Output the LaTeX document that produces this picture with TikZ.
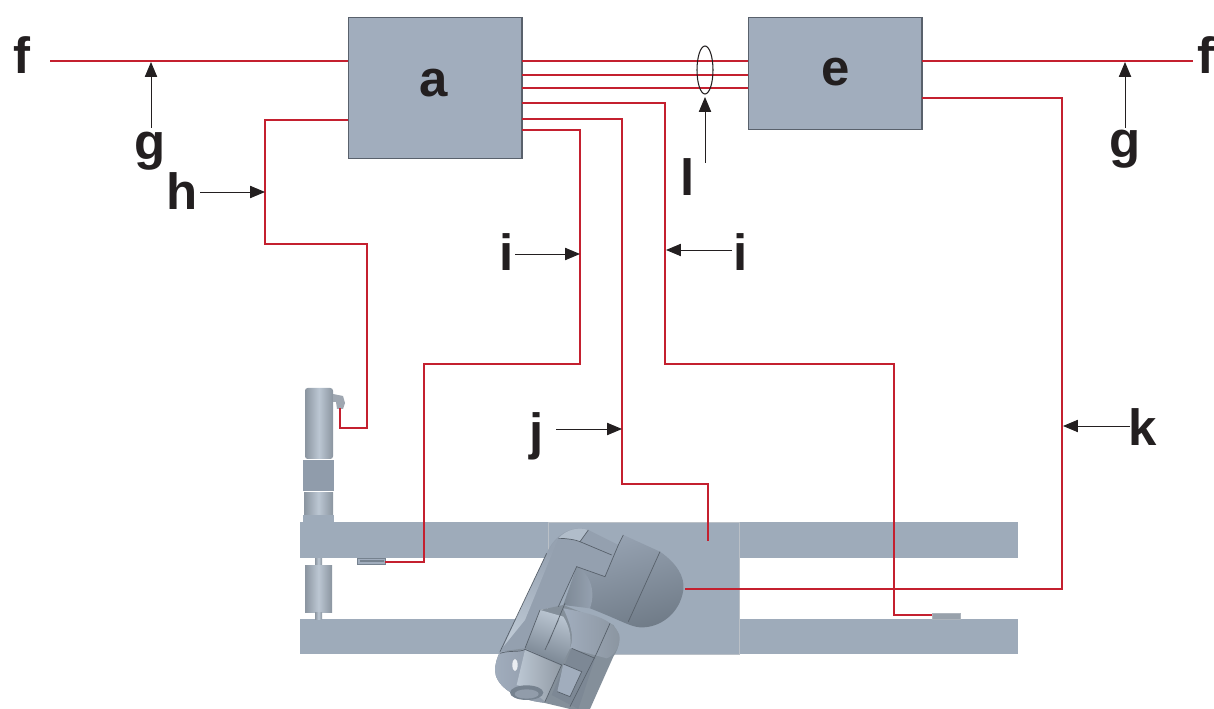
\documentclass[tikz,border=0pt]{standalone}
\usepackage{fontspec}
\setmainfont{Liberation Sans}
\definecolor{wire}{HTML}{C4202F}
\definecolor{steel}{HTML}{A1ADBD}
\definecolor{steelb}{HTML}{9EABBA}
\definecolor{steeld}{HTML}{76828F}
\definecolor{steell}{HTML}{BCC7D3}
\definecolor{edge}{HTML}{59616C}
\definecolor{ink}{HTML}{231F20}
\usetikzlibrary{arrows.meta,shapes.geometric}
\tikzset{
 unit/.style={draw=edge,line width=0.6pt,fill=steel,minimum width=3.47cm,anchor=north west,inner sep=0pt},
 wireline/.style={draw=wire,line width=0.85pt},
 lab/.style={font=\fontsize{29}{29}\selectfont\bfseries,text=ink,inner sep=0pt},
 callout/.style={draw=ink,line width=0.55pt,-{Triangle[length=8.5pt,width=7pt]}},
 part/.style={fill=steelb,draw=none},
 cyl/.style={left color=steeld!85,right color=steeld!85,middle color=steell,draw=none},
 det/.style={draw=steeld!75!black,line width=0.4pt},
}
\begin{document}
\begin{tikzpicture}[x=0.02cm,y=-0.02cm]
\useasboundingbox (0,0) rectangle (1214,709);
% machine frame
\path[part] (300,522) rectangle (1018,558);
\path[part] (300,619) rectangle (1018,654);
\path[fill=steelb,draw=steeld!50] (548,522) rectangle (739,654);
% motor and actuator
\path[cyl,rounded corners=1.5pt] (305,388) -- (333,388) -- (333,459) -- (305,459) -- cycle;
\path[fill=steeld!70] (333,394) -- (343,396) -- (345,403) -- (343,409) -- (337,409) -- (336,402) -- (333,402) -- cycle;
\path[part,fill=steeld!40!steel] (303,460) rectangle (334,491);
\path[cyl] (304,492) rectangle (333,515);
\path[part] (303,515) rectangle (334,522);
\path[cyl] (315,558) rectangle (322,565);
\path[cyl] (305,565) rectangle (332,612);
\path[cyl] (315,612) rectangle (322,619);
\path[fill=steel,draw=steeld] (357,558) rectangle (385,564);
\path[fill=steeld] (360,560) rectangle (384,562);
\path[fill=steeld!75,draw=steeld!60] (932,613) rectangle (960,619);
% robot wrist, zoom coordinates
\begin{scope}[shift={(480,510)},x=0.006667cm,y=-0.006667cm]
 % dome
 \shade[left color=steel!75!steeld,right color=steeld!95!black,shading angle=15] (430,75) -- (540,125) .. controls (590,160) and (615,200) .. (610,240) .. controls (600,310) and (540,355) .. (480,352) .. controls (450,350) and (420,330) .. (330,295) -- (290,170) -- (375,200) -- (415,105) -- cycle;
 % inner lobe
 \shade[left color=steeld!95,right color=steel!80!steeld] (290,170) .. controls (325,185) and (350,240) .. (330,295) -- (250,285) -- cycle;
 % upper link
 \fill[steel!70!steeld] (200,130) .. controls (225,70) and (280,45) .. (325,60) -- (415,105) -- (375,200) -- (290,170) -- (235,290) -- (180,300) -- (135,415) -- (60,430) -- cycle;
 \shade[left color=steel!75!steeld,right color=steell,shading angle=-25] (200,130) .. controls (215,105) and (225,90) .. (235,85) -- (135,330) -- (70,410) -- cycle;
 \fill[steell!60!steel] (235,85) .. controls (260,58) and (295,50) .. (325,60) -- (300,95) .. controls (290,90) and (260,85) .. (235,85) -- cycle;
 % lower body, silhouette
 \fill[steeld!90] (60,425) .. controls (48,450) and (42,475) .. (47,495) .. controls (60,540) and (120,570) .. (190,578) -- (270,597) -- (330,597) -- (400,440) .. controls (420,410) and (425,380) .. (400,345) -- (250,285) -- (180,300) -- (135,415) -- cycle;
 % elbow
 \shade[left color=steel,right color=steeld!85] (250,295) .. controls (330,310) and (400,325) .. (418,375) .. controls (425,405) and (400,440) .. (380,445) -- (270,415) .. controls (285,380) and (270,340) .. (250,295) -- cycle;
 \shade[left color=steell,right color=steeld,shading angle=-20] (180,300) -- (250,320) .. controls (270,350) and (275,390) .. (270,415) -- (245,465) -- (135,415) -- cycle;
 % cap
 \shade[left color=steel,right color=steel!85!black] (60,425) .. controls (48,450) and (42,475) .. (47,495) .. controls (60,540) and (120,570) .. (190,578) -- (245,465) -- (135,415) .. controls (110,428) and (85,420) .. (60,425) -- cycle;
 \shade[left color=steell,right color=steeld!80] (135,420) -- (245,468) -- (195,575) .. controls (180,560) and (140,530) .. (110,525) -- cycle;
 \fill[white!70!steell] (105,465) ellipse (8 and 18);
 \fill[steeld] (140,548) ellipse (50 and 22);
 \fill[steel!90!black] (140,552) ellipse (36 and 14);
 % right plates
 \fill[steeld!95] (275,415) -- (345,445) -- (295,597) -- (215,555) -- cycle;
 \fill[steel] (250,462) -- (305,485) -- (270,560) -- (232,545) -- cycle;
 % edges
 \draw[det] (200,130) -- (60,425) (235,85) .. controls (260,85) and (290,90) .. (300,95) -- (325,60);
 \draw[det] (300,95) -- (395,135) (415,105) -- (375,200) -- (290,170) -- (235,290);
 \draw[det] (430,75) -- (415,105) (540,125) -- (445,335);
 \draw[det] (180,300) -- (135,415) (60,430) .. controls (90,420) and (120,428) .. (135,418) -- (245,465);
 \draw[det] (390,340) -- (350,430) -- (270,590) (235,330) -- (195,420) (255,280) -- (205,400);
 \draw[det] (275,415) -- (345,445) (250,462) -- (305,485) -- (270,560) -- (232,545);
 \draw[det] (245,465) -- (195,575);
\end{scope}
% controllers
\node[unit,minimum height=2.82cm] (a) at (348,17) {};
\node[unit,minimum height=2.24cm] (e) at (748,17) {};
\node[lab] at (434,83) {a};
\node[lab] at (836,72) {e};
% wire ends and bends
\coordinate (fl) at (50,61);
\coordinate (fr) at (1193,61);
\coordinate (aout1) at (522,61);
\coordinate (aout2) at (522,75);
\coordinate (aout3) at (522,88);
\coordinate (ein1) at (748,61);
\coordinate (ein2) at (748,75);
\coordinate (ein3) at (748,88);
\coordinate (ain) at (348,61);
\coordinate (eout) at (922,61);
\draw[wireline] (fl) -- (ain);
\draw[wireline] (eout) -- (fr);
\draw[wireline] (aout1) -- (ein1);
\draw[wireline] (aout2) -- (ein2);
\draw[wireline] (aout3) -- (ein3);
\draw[wireline] (348,120) -- (265,120) -- (265,244) -- (367,244) -- (367,428) -- (340,428) -- (340,408);
\draw[wireline] (522,130) -- (580,130) -- (580,364) -- (424,364) -- (424,562) -- (385,562);
\draw[wireline] (522,119) -- (622,119) -- (622,484) -- (708,484) -- (708,541);
\draw[wireline] (522,103) -- (665,103) -- (665,364) -- (894,364) -- (894,615) -- (932,615);
\draw[wireline] (922,98) -- (1062,98) -- (1062,589) -- (685,589);
% bundle
\node[draw=ink,line width=0.6pt,ellipse,minimum width=0.32cm,minimum height=0.96cm,inner sep=0pt] (bundle) at (705,70) {};
% labels
\node[lab] (f1) at (22,55) {f};
\node[lab] (f2) at (1206,55) {f};
\node[lab] (g1) at (150,151) {g};
\node[lab] (g2) at (1125,149) {g};
\node[lab] (h) at (182,191) {h};
\node[lab] (i1) at (507,252) {i};
\node[lab] (i2) at (741,252) {i};
\node[lab] (j) at (537,436) {j};
\node[lab] (k) at (1143,427) {k};
\node[lab] (l) at (688,177) {l};
% callouts
\coordinate (g1t) at (151,62); \coordinate (g1s) at (151,128);
\coordinate (g2t) at (1125,62); \coordinate (g2s) at (1125,128);
\coordinate (ht) at (265,192); \coordinate (hs) at (200,192);
\coordinate (i1t) at (580,254); \coordinate (i1s) at (515,254);
\coordinate (i2t) at (666,250); \coordinate (i2s) at (732,250);
\coordinate (jt) at (622,429); \coordinate (js) at (556,429);
\coordinate (kt) at (1063,426); \coordinate (ks) at (1130,426);
\coordinate (lt) at (705,97); \coordinate (ls) at (705,163);
\draw[callout] (g1s) -- (g1t);
\draw[callout] (g2s) -- (g2t);
\draw[callout] (hs) -- (ht);
\draw[callout] (i1s) -- (i1t);
\draw[callout] (i2s) -- (i2t);
\draw[callout] (js) -- (jt);
\draw[callout] (ks) -- (kt);
\draw[callout] (ls) -- (lt);
\end{tikzpicture}
\end{document}
